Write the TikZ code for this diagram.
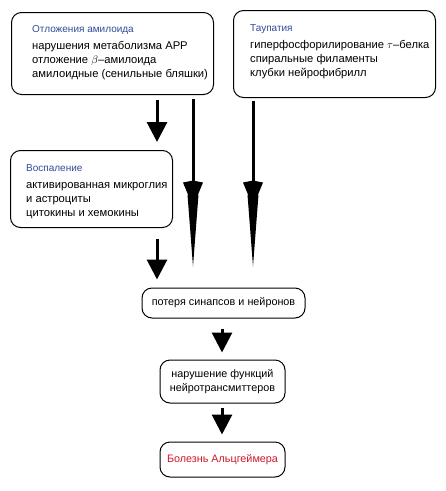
\documentclass[tikz,border=0pt]{standalone}
\usepackage{fontspec}
\setmainfont{Liberation Sans}
\usetikzlibrary{positioning,arrows.meta,calc}
\definecolor{TitleBlue}{RGB}{45,75,150}
\definecolor{AlzRed}{RGB}{205,25,40}
\newcommand{\boxhead}[1]{{\fontsize{10}{12}\selectfont\color{TitleBlue}#1}}
\tikzset{
    bigbox/.style={draw=black, line width=1pt, rounded corners=10pt, inner sep=0pt, anchor=north west},
    boxtext/.style={inner sep=0pt, anchor=north west, align=left, font=\fontsize{11.2}{13.8}\selectfont},
    stagebox/.style={draw=black, line width=1pt, rounded corners=10pt, inner sep=0pt, align=center, font=\fontsize{10.8}{13.5}\selectfont},
    shortarrow/.style={line width=3pt, -{Triangle[width=20pt,length=20pt]}},
    % длинная стрелка: узкое острие + "зазубрины" у основания
    longarrow/.style={line width=3pt, -{Triangle[width=11pt,length=72pt,line width=0pt]}},
    barbtip/.style={line width=3pt, -{Kite[width=20pt,length=26pt,inset=2pt,line width=0pt]}}
}
\begin{document}
\begin{tikzpicture}[x=1pt,y=-1pt]
    \useasboundingbox (0,0) rectangle (446,491);
    % --- Верхние блоки ---
    \node[bigbox, minimum width=202pt, minimum height=82pt] (amyloid) at (11,12) {};
    \node[boxtext] (amyloidtxt) at ([shift={(21,13)}]amyloid.north west)
        {\boxhead{Отложения амилоида}\\[4pt]
         нарушения метаболизма APP\\
         отложение $\beta$--амилоида\\
         амилоидные (сенильные бляшки)};
    \node[bigbox, minimum width=202pt, minimum height=87pt] (tau) at (233,10) {};
    \node[boxtext] (tautxt) at ([shift={(17,14)}]tau.north west)
        {\boxhead{Таупатия}\\[4pt]
         гиперфосфорилирование $\tau$--белка\\
         спиральные филаменты\\
         клубки нейрофибрилл};
    % --- Воспаление ---
    \node[bigbox, minimum width=162pt, minimum height=77pt] (inflam) at (10,150) {};
    \node[boxtext] (inflamtxt) at ([shift={(16,14)}]inflam.north west)
        {\boxhead{Воспаление}\\[4pt]
         активированная микроглия\\
         и астроциты\\
         цитокины и хемокины};
    % --- Нижняя цепочка ---
    \node[stagebox, minimum width=163pt, minimum height=30pt] (loss) at (223.5,303) {потеря синапсов и нейронов};
    \node[stagebox, minimum width=125pt, minimum height=43pt] (neuro) at (222.5,381.5) {нарушение функций\\нейротрансмиттеров};
    \node[stagebox, minimum width=125pt, minimum height=35pt, text=AlzRed] (alz) at (222.5,459.5) {Болезнь Альцгеймера};
    % --- Стрелки ---
    \draw[shortarrow, shorten <=5pt, shorten >=8pt] (amyloid.south -| 157,0) -- (inflam.north -| 157,0);
    \draw[longarrow, shorten <=4pt, shorten >=21pt] (amyloid.south -| 193,0) -- (loss.north -| 193,0);
    \draw[barbtip, shorten <=4pt, shorten >=81pt] (amyloid.south -| 193,0) -- (loss.north -| 193,0);
    \draw[longarrow, shorten <=3pt, shorten >=21pt] (tau.south -| 253,0) -- (loss.north -| 253,0);
    \draw[barbtip, shorten <=3pt, shorten >=81pt] (tau.south -| 253,0) -- (loss.north -| 253,0);
    \draw[shortarrow, shorten <=11pt, shorten >=8pt] (inflam.south -| 157,0) -- (loss.north -| 157,0);
    \draw[shortarrow, shorten <=10pt, shorten >=7pt] (loss.south -| 222,0) -- (neuro.north -| 222,0);
    \draw[shortarrow, shorten <=4pt, shorten >=7pt] (neuro.south -| 222,0) -- (alz.north -| 222,0);
\end{tikzpicture}
\end{document}
